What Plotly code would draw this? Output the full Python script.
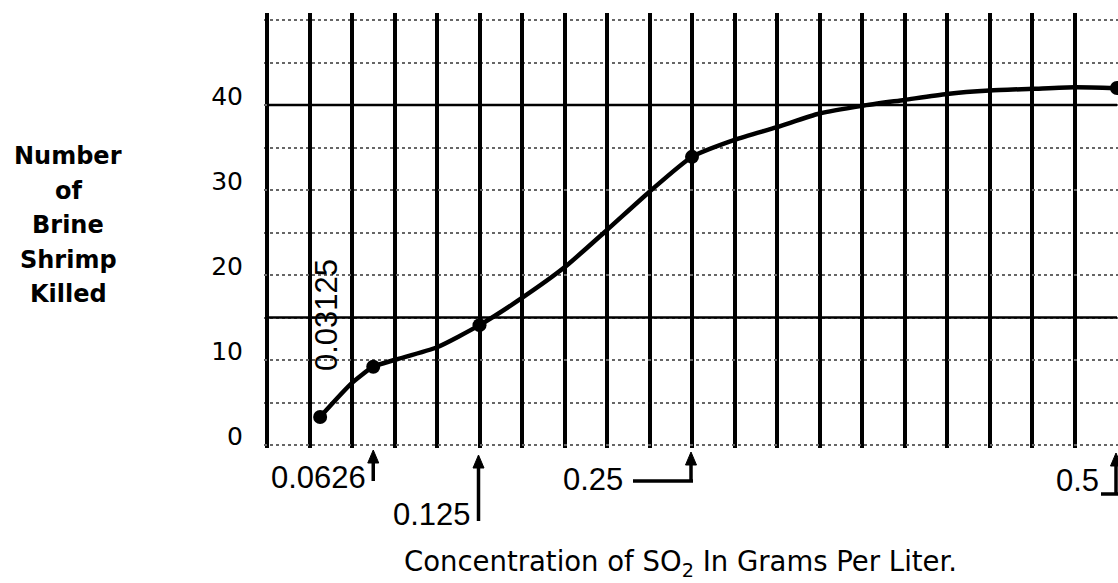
import plotly.graph_objects as go

# ---- data ----
conc = [0.03125, 0.0625, 0.125, 0.25, 0.5]          # g/L SO2 (plotted points)
killed = [3.3, 9.2, 14.1, 33.9, 42.0]                # brine shrimp killed

# hand-drawn curve at grid columns
curve_x = [0.03125, 0.05, 0.0625, 0.075, 0.1, 0.125, 0.15, 0.175, 0.2, 0.225,
           0.25, 0.275, 0.3, 0.325, 0.35, 0.375, 0.4, 0.425, 0.45, 0.475, 0.5]
curve_y = [3.3, 7.3, 9.2, 10.0, 11.5, 14.1, 17.3, 20.9, 25.3, 29.8,
           33.9, 35.9, 37.4, 39.0, 39.9, 40.6, 41.3, 41.7, 41.9, 42.1, 42.0]

y_ticks = [0, 10, 20, 30, 40]
x_labels = ["0.0626", "0.125", "0.25", "0.5"]
first_label = "0.03125"
y_title_lines = ["Number", "of", "Brine", "Shrimp", "Killed"]
bold_rows = [15, 40]

# ---- layout helpers (pixel -> data / paper) ----
X0, XS = 267.0, 1700.0      # pixel of x=0, pixels per unit
Y0, YS = 445.0, 8.5         # pixel of y=0, pixels per unit
L, T, B = 264, 13, 135
W, H = 1118, 583


def dx(px):
    return (px - X0) / XS


def dy(py):
    return (Y0 - py) / YS


def xp(px):
    return (px - L) / (W - L)


def yp(py):
    return (H - B - py) / (H - B - T)


def cpx(c):
    return X0 + c * XS


FONT = "DejaVu Sans"
LAB_FONT = "Liberation Sans"

fig = go.Figure()

fig.add_trace(go.Scatter(x=curve_x, y=curve_y, mode="lines",
                         line=dict(color="black", width=4.5, shape="spline", smoothing=0.6),
                         hoverinfo="skip"))
fig.add_trace(go.Scatter(x=conc, y=killed, mode="markers",
                         marker=dict(color="black", size=14)))

shapes = []
for r in bold_rows:
    shapes.append(dict(type="line", xref="x", yref="y", x0=0, x1=0.5, y0=r, y1=r,
                       line=dict(color="black", width=2.5), layer="between"))


def seg(x0, y0, x1, y1, w=3.5):
    shapes.append(dict(type="line", xref="paper", yref="paper",
                       x0=xp(x0), y0=yp(y0), x1=xp(x1), y1=yp(y1),
                       line=dict(color="black", width=w)))


def arrow(x, tip_y, tail_y, w=3.5):
    seg(x, tip_y + 8, x, tail_y, w)
    path = "M {} {} L {} {} L {} {} Z".format(
        xp(x), yp(tip_y), xp(x - 5.5), yp(tip_y + 13), xp(x + 5.5), yp(tip_y + 13))
    shapes.append(dict(type="path", xref="paper", yref="paper", path=path,
                       fillcolor="black", line=dict(color="black", width=1)))


annotations = []


def label(text, cx, cy, size=31, angle=0, family=LAB_FONT):
    annotations.append(dict(x=xp(cx), y=yp(cy), xref="paper", yref="paper", text=text,
                            xanchor="center", yanchor="middle", textangle=angle,
                            showarrow=False, font=dict(family=family, size=size, color="black")))


# 0.0626
label(x_labels[0], 318, 478)
arrow(cpx(conc[1]), 450, 481)
# 0.125
label(x_labels[1], 432, 514)
arrow(cpx(conc[2]) - 1, 455, 521)
# 0.25
label(x_labels[2], 593, 479)
seg(633, 481, cpx(conc[3]) + 1, 481)
arrow(cpx(conc[3]) - 1, 452, 482)
# 0.5
label(x_labels[3], 1077, 481)
seg(1101, 494, cpx(conc[4]) + 1, 494)
arrow(cpx(conc[4]) - 1, 453, 495)
# 0.03125 (vertical, inside the grid)
label(first_label, 326, 315, size=31, angle=-90)

# axis titles
label("Concentration of SO<sub>2</sub> In Grams Per Liter.", 680, 563, size=27.5, family=FONT)
for i, line in enumerate(y_title_lines):
    label("<b>" + line + "</b>", 68, 156 + i * 34.5, size=24, family=FONT)

fig.update_layout(
    width=W, height=H,
    margin=dict(l=L, r=0, t=T, b=B, pad=0),
    plot_bgcolor="white", paper_bgcolor="white",
    showlegend=False,
    shapes=shapes, annotations=annotations,
    xaxis=dict(range=[dx(L), dx(W)], tick0=0, dtick=0.025, showgrid=True,
               gridcolor="black", gridwidth=4, showticklabels=False,
               zeroline=False, ticks="", showline=False),
    yaxis=dict(range=[dy(H - B), dy(T)], tickvals=y_ticks, showgrid=True,
               gridcolor="#666", griddash="dot", gridwidth=1.8,
               minor=dict(tick0=0, dtick=5, showgrid=True, gridcolor="#666",
                          griddash="dot", gridwidth=1.8),
               zeroline=False, ticks="", showline=False,
               tickfont=dict(family=FONT, size=25, color="black"),
               ticklabelstandoff=20, ticklabelshift=-9),
)

fig.write_html("out.html", post_script="document.body.style.margin='0';",
               config={"displayModeBar": False})
